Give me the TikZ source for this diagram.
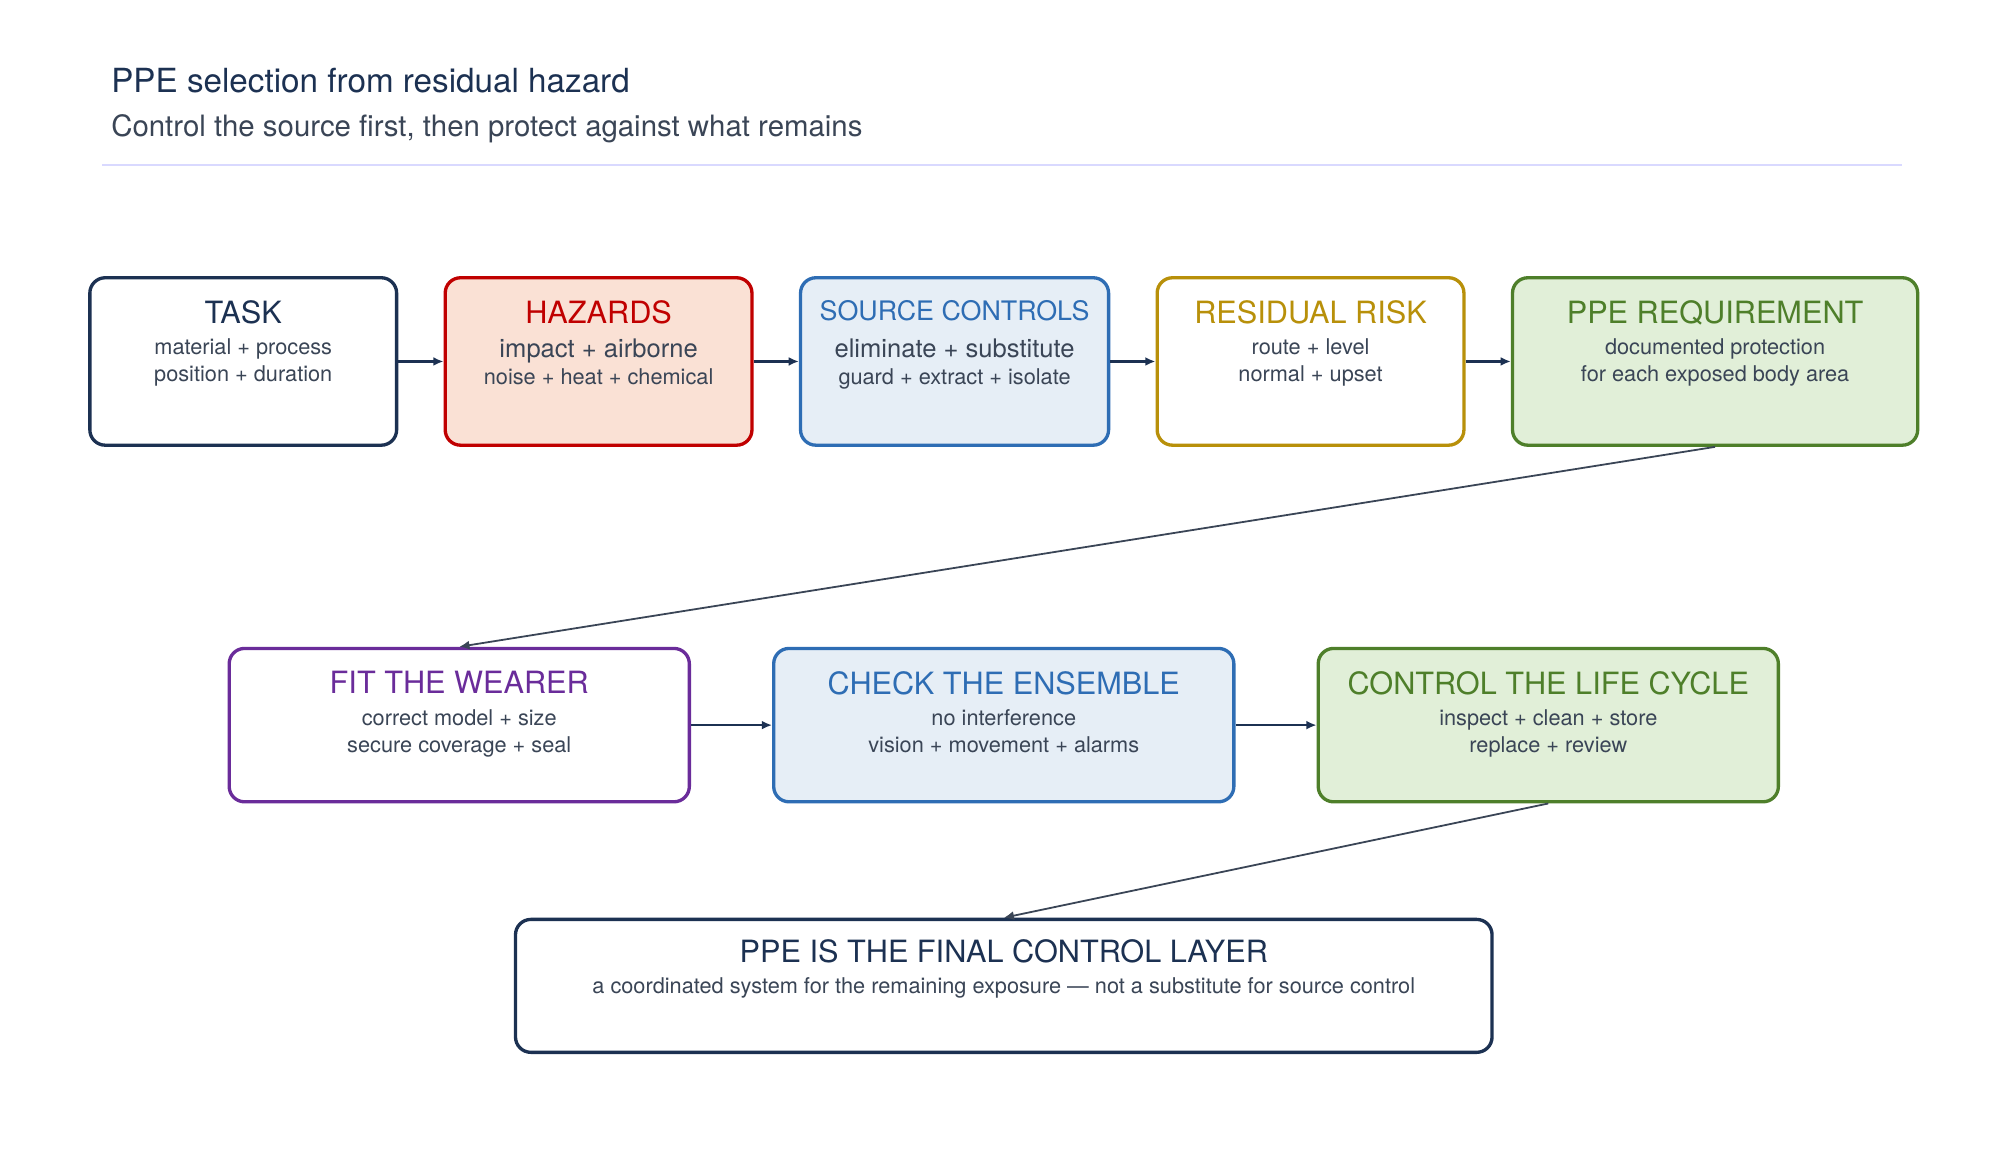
\documentclass[tikz,border=0pt]{standalone}
\usepackage{fontspec}
\setmainfont{TeX Gyre Heros}
\usetikzlibrary{arrows.meta}
\definecolor{navy}{HTML}{1C3152}
\definecolor{txt}{HTML}{3A4556}
\definecolor{red}{HTML}{C00000}\definecolor{redf}{HTML}{FAE1D5}
\definecolor{blu}{HTML}{2E6DB4}\definecolor{bluf}{HTML}{E6EEF6}
\definecolor{gold}{HTML}{B8900A}
\definecolor{grn}{HTML}{4E7F2A}\definecolor{grnf}{HTML}{E1EFD8}
\definecolor{pur}{HTML}{6A2C9A}
\begin{document}
\begin{tikzpicture}[x=0.5pt,y=-0.5pt,
 box/.style={draw=#1,line width=1.3pt,rounded corners=6pt,anchor=north west,inner sep=0pt},
 ttl/.style={font=\fontsize{12}{14}\selectfont,anchor=north},
 bdy/.style={font=\fontsize{8.5}{10.5}\selectfont,text=txt,align=center,anchor=north},
 arr/.style={-{Latex[length=4pt,width=3.5pt]},line width=1pt,draw=navy},
 darr/.style={-{Latex[length=4pt,width=3.5pt]},line width=0.7pt,draw=txt}]
\useasboundingbox (0,0) rectangle (1560,908);
\node[anchor=west,text=navy,font=\fontsize{13}{15}\selectfont] (t) at (80,63) {PPE selection from residual hazard};
\node[anchor=west,text=txt,font=\fontsize{11.5}{14}\selectfont] (s) at (80,101) {Control the source first, then protect against what remains};
\draw[color=blue!15,line width=0.8pt] (80,129) -- (1488,129);
% row 1
\newcommand{\bx}[9]{%
 \node[box=#2,fill=#3,minimum width=#6*0.5pt,minimum height=#7*0.5pt] (#1) at (#4,#5) {};
 \node[ttl,text=#2] at ([yshift=-6pt]#1.north) {#8};
 \node[bdy] at ([yshift=-21pt]#1.north) {#9};}
\bx{task}{navy}{white}{69}{216}{240}{131}{TASK}{material + process\\position + duration}
\bx{haz}{red}{redf}{347}{216}{240}{131}{HAZARDS}{\fontsize{10}{10.5}\selectfont impact + airborne\\noise + heat + chemical}
\bx{src}{blu}{bluf}{625}{216}{241}{131}{\fontsize{10.5}{14}\selectfont SOURCE CONTROLS}{\fontsize{10}{10.5}\selectfont eliminate + substitute\\guard + extract + isolate}
\bx{res}{gold}{white}{904}{216}{240}{131}{RESIDUAL RISK}{route + level\\normal + upset}
\bx{req}{grn}{grnf}{1182}{216}{317}{131}{PPE REQUIREMENT}{documented protection\\for each exposed body area}
\bx{fit}{pur}{white}{178}{506}{360}{120}{FIT THE WEARER}{correct model + size\\secure coverage + seal}
\bx{chk}{blu}{bluf}{604}{506}{360}{120}{CHECK THE ENSEMBLE}{no interference\\vision + movement + alarms}
\bx{ctl}{grn}{grnf}{1030}{506}{360}{120}{CONTROL THE LIFE CYCLE}{inspect + clean + store\\replace + review}
\node[box=navy,fill=white,minimum width=764*0.5pt,minimum height=104*0.5pt] (fin) at (402,718) {};
\node[ttl,text=navy] at ([yshift=-5pt]fin.north) {PPE IS THE FINAL CONTROL LAYER};
\node[bdy] at ([yshift=-20pt]fin.north) {a coordinated system for the remaining exposure — not a substitute for source control};
\draw[arr] (task) -- (haz);
\draw[arr] (haz) -- (src);
\draw[arr] (src) -- (res);
\draw[arr] (res) -- (req);
\draw[arr] (fit) -- (chk);
\draw[arr] (chk) -- (ctl);
\draw[darr] (req.south) -- (fit.north);
\draw[darr] (ctl.south) -- (fin.north);
\end{tikzpicture}
\end{document}
